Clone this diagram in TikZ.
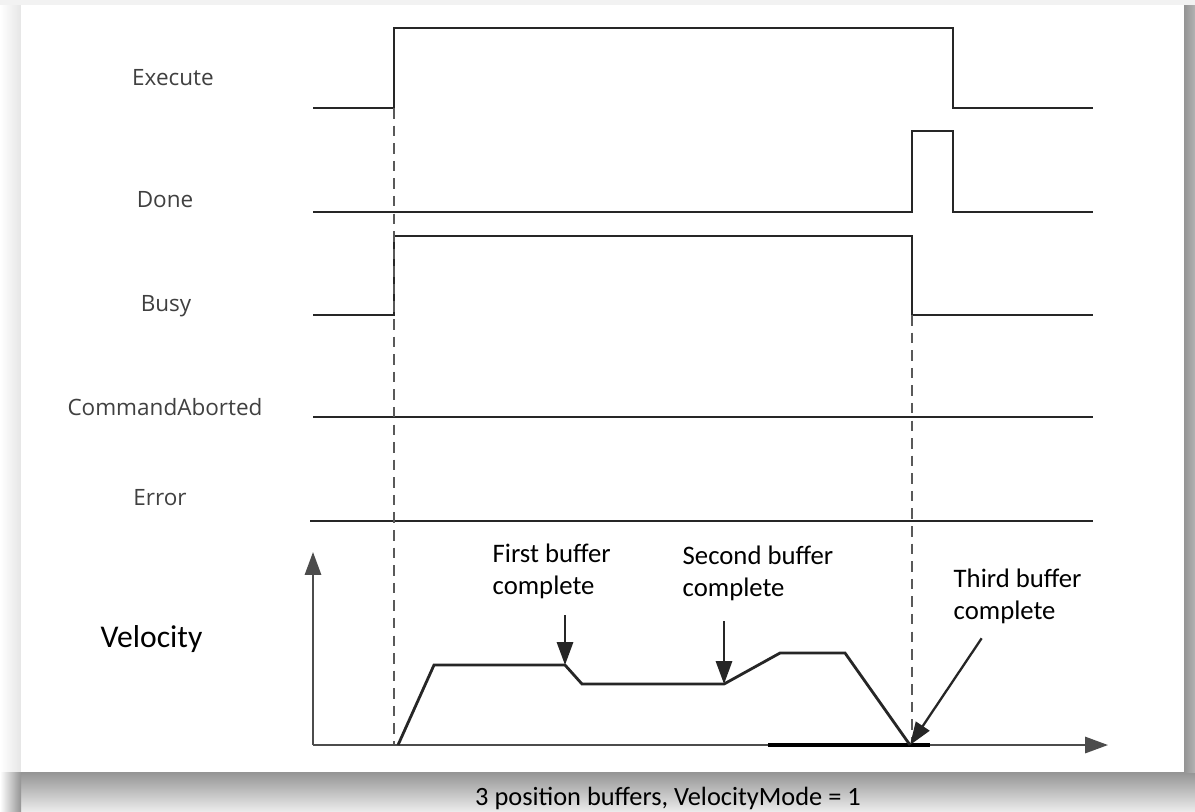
\documentclass[tikz,border=0pt]{standalone}
\usepackage{fontspec}
\setmainfont{Carlito}
\newfontfamily\sigfont{Open Sans}
\usetikzlibrary{arrows.meta}
\tikzset{
    >={Triangle[length=6.5pt,width=4.6pt]}, % filled arrow heads
    signal/.style={line width=0.8pt, draw=black!85}, % the logic traces
    guide/.style={line width=0.7pt, draw=black!65, dash pattern=on 3pt off 2pt},
    axis/.style={->, line width=0.65pt, draw=black!70},
    siglabel/.style={anchor=base, inner sep=0pt, text=black!75, font=\sigfont\fontsize{6.4}{7.5}\selectfont},
    note/.style={anchor=north west, align=left, inner sep=0pt, font=\fontsize{7.6}{9.1}\selectfont},
    marker/.style={->, line width=0.65pt, draw=black!85}
}

\begin{document}
\begin{tikzpicture}[x=0.01cm, y=-0.01cm]
    \useasboundingbox (0,0) rectangle (1195,811);
    % frame and drop shadow
    \fill[black!5] (0,0) rectangle (1195,811);
    \shade[left color=white, right color=black!10] (0,5) rectangle (21,772);
    \shade[top color=black!42, bottom color=black!8] (21,772) rectangle (1195,811);
    \shade[left color=white, right color=black!42] (0,772) rectangle (21,811);
    \shade[left color=black!42, right color=black!30] (1184,5) rectangle (1195,772);
    \fill[white] (21,5) rectangle (1184,772);

    \node[siglabel] (execute) at (173,85) {Execute};
    \node[siglabel] (done) at (165,207) {Done};
    \node[siglabel] (busy) at (166,311) {Busy};
    \node[siglabel] (aborted) at (165,415) {CommandAborted};
    \node[siglabel] (error) at (160,505) {Error};

    \draw[signal] (313,108) -- (394,108) -- (394,28) -- (953,28) -- (953,108) -- (1093,108);
    \draw[signal] (313,212) -- (912,212) -- (912,131) -- (953,131) -- (953,212) -- (1093,212);
    \draw[signal] (313,315) -- (394,315) -- (394,236) -- (912,236) -- (912,315) -- (1093,315);
    \draw[signal] (313,417) -- (1093,417);
    \draw[signal] (310,521) -- (1093,521);

    \draw[guide] (394,108) -- (394,745);
    \draw[guide] (912,315) -- (912,745);

    % velocity profile
    \node[anchor=base west, inner sep=0pt, font=\fontsize{9}{11}\selectfont] (velocity) at (100,647) {Velocity};
    \coordinate (origin) at (313,745);
    \draw[axis] (origin) -- (313,552);
    \draw[axis] (origin) -- (1108,745);
    \draw[line width=1.3pt] (768,745) -- (930,745);

    \coordinate (v0) at (398,745);
    \coordinate (v1) at (434,665);
    \coordinate (b1) at (565,665);
    \coordinate (v2) at (582,684);
    \coordinate (b2) at (724,684);
    \coordinate (v3) at (780,653);
    \coordinate (v4) at (845,653);
    \coordinate (b3) at (910,745);
    \draw[signal] (v0) -- (v1) -- (b1) -- (v2) -- (b2) -- (v3) -- (v4) -- (b3);

    \node[note] (first) at (492,543) {First buffer\\complete};
    \node[note] (second) at (682,545) {Second buffer\\complete};
    \node[note] (third) at (953,568) {Third buffer\\complete};
    \draw[marker] (first.south -| b1) ++(0,16) -- (b1);
    \draw[marker] (second.south -| b2) ++(0,20) -- (b2);
    \draw[marker] (third.south) ++(-36,14) -- (b3);

    \node[anchor=base, inner sep=0pt, font=\fontsize{7.5}{9}\selectfont] (caption) at (668,805) {3 position buffers, VelocityMode = 1};
\end{tikzpicture}
\end{document}
